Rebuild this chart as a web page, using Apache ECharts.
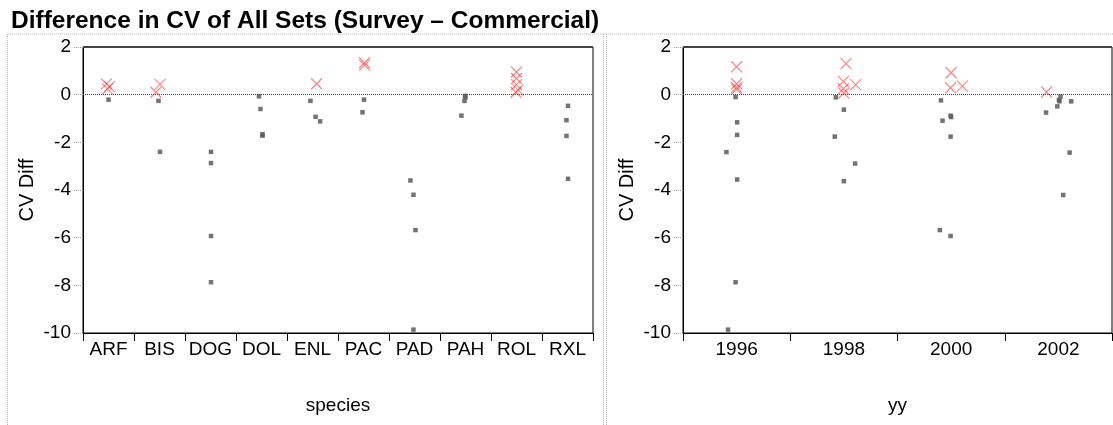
<!DOCTYPE html>
<html>
<head>
<meta charset="utf-8">
<script src="https://cdn.jsdelivr.net/npm/echarts@6/dist/echarts.min.js"></script>
<style>
  html, body { margin: 0; padding: 0; background: #fff; }
  #main { width: 1113px; height: 425px; }
</style>
</head>
<body>
<div id="main"></div>
<script>
// categories
var speciesList = ['ARF', 'BIS', 'DOG', 'DOL', 'ENL', 'PAC', 'PAD', 'PAH', 'ROL', 'RXL'];
var yearLabels = ['1996', '1998', '2000', '2002'];

// left panel: x = species index (+ jitter), y = CV diff
var spGrayX = [0.0, 0.98, 1.01, 2.01, 2.01, 2.01, 2.01, 2.95, 2.98, 3.02, 3.02, 3.96, 4.06, 4.15, 5.01, 4.98,
               5.92, 5.98, 6.02, 5.98, 6.99, 7.0, 6.98, 6.92, 9.01, 8.98, 8.98, 9.01];
var spGrayY = [-0.21, -0.26, -2.40, -2.40, -2.87, -5.93, -7.87, -0.07, -0.60, -1.66, -1.72, -0.26, -0.93, -1.12, -0.21, -0.74,
               -3.60, -4.20, -5.68, -9.86, -0.05, -0.12, -0.26, -0.88, -0.47, -1.07, -1.73, -3.53];
var spRedX = [-0.04, 0.02, -0.02, 1.01, 0.93, 4.08, 5.02, 5.02, 8.0, 8.0, 8.0, 8.03, 7.99];
var spRedY = [0.45, 0.34, 0.24, 0.43, 0.10, 0.46, 1.34, 1.24, 0.95, 0.68, 0.42, 0.20, 0.10];

// right panel: x = year (+ jitter), y = CV diff
var yyGrayX = [1995.98, 1996.01, 1996.01, 1995.81, 1996.01, 1995.98, 1995.84,
               1997.85, 1998.0, 1997.83, 1998.21, 1998.0,
               1999.81, 1999.99, 2000.0, 1999.84, 1999.99, 1999.79, 1999.99,
               2002.04, 2002.01, 2002.02, 2001.98, 2001.77, 2002.24, 2002.21, 2002.09];
var yyGrayY = [-0.10, -1.16, -1.69, -2.41, -3.56, -7.87, -9.86,
               -0.11, -0.63, -1.76, -2.89, -3.63,
               -0.24, -0.88, -0.94, -1.09, -1.76, -5.68, -5.93,
               -0.08, -0.22, -0.28, -0.49, -0.75, -0.28, -2.43, -4.21];
var yyRedX = [1996.0, 1996.0, 1996.0, 1996.0, 1998.04, 1997.99, 1998.22, 1997.99, 1998.0, 2000.0, 2000.21, 1999.99, 2001.78];
var yyRedY = [1.17, 0.46, 0.30, 0.22, 1.30, 0.56, 0.42, 0.25, 0.07, 0.92, 0.36, 0.29, 0.11];

function zip(xs, ys) {
  var out = [];
  for (var i = 0; i < xs.length; i++) {
    out.push([xs[i], ys[i]]);
  }
  return out;
}

var FONT = 'Liberation Sans, Arial, sans-serif';
var crossPath = 'path://M0,0L10,10M10,0L0,10';

var chart = echarts.init(document.getElementById('main'));

function yAxisFor(gridIndex, gap) {
  return {
    type: 'value',
    gridIndex: gridIndex,
    min: -10,
    max: 2,
    interval: 2,
    name: 'CV Diff',
    nameLocation: 'middle',
    nameGap: gap,
    nameMoveOverlap: false,
    nameTextStyle: { fontFamily: FONT, fontSize: 20, color: '#000' },
    axisLine: { show: true, onZero: false, lineStyle: { color: '#000', width: 1 } },
    axisTick: { show: true, length: 9, lineStyle: { color: '#999', type: 'dotted' } },
    axisLabel: { fontFamily: FONT, fontSize: 19, color: '#000', margin: 12 },
    splitLine: { show: false }
  };
}

function grayScatter(xi, yi, data) {
  return {
    type: 'scatter',
    xAxisIndex: xi,
    yAxisIndex: yi,
    symbol: 'rect',
    symbolSize: 4.5,
    itemStyle: { color: '#5a5a5a', opacity: 0.85 },
    data: data,
    markLine: {
      silent: true,
      symbol: 'none',
      label: { show: false },
      data: [
        { yAxis: 0, lineStyle: { color: '#444', type: 'dotted', width: 1 } },
        { yAxis: 2, lineStyle: { color: '#444', type: 'solid', width: 2 } }
      ]
    },
    z: 3
  };
}

function redScatter(xi, yi, data) {
  return {
    type: 'scatter',
    xAxisIndex: xi,
    yAxisIndex: yi,
    symbol: crossPath,
    symbolSize: 11,
    itemStyle: { color: 'transparent', borderColor: 'rgba(255,40,40,0.7)', borderWidth: 1.2 },
    data: data,
    z: 4
  };
}

function catAxis(gridIndex, labels, title) {
  return {
    type: 'category',
    gridIndex: gridIndex,
    data: labels,
    boundaryGap: true,
    name: title,
    nameLocation: 'middle',
    nameGap: 63,
    nameTextStyle: { fontFamily: FONT, fontSize: 19, color: '#000' },
    axisLine: { onZero: false, lineStyle: { color: '#000' } },
    axisTick: { show: true, interval: 0, length: 8, lineStyle: { color: '#000' } },
    axisLabel: { interval: 0, fontFamily: FONT, fontSize: 19, color: '#000', margin: 7 },
    splitLine: { show: false }
  };
}

chart.setOption({
  animation: false,
  backgroundColor: '#fff',
  title: {
    text: 'Difference in CV of All Sets (Survey \u2013 Commercial)',
    left: 6,
    top: 4,
    textStyle: { fontFamily: FONT, fontSize: 24.5, fontWeight: 'bold', color: '#000' }
  },
  graphic: [
    { type: 'line', shape: { x1: 8, y1: 34, x2: 1113, y2: 34 }, style: { stroke: '#bbb', lineWidth: 1, lineDash: [1, 1] } },
    { type: 'line', shape: { x1: 7.5, y1: 34, x2: 7.5, y2: 425 }, style: { stroke: '#bbb', lineWidth: 1, lineDash: [1, 1] } },
    { type: 'line', shape: { x1: 603.5, y1: 34, x2: 603.5, y2: 425 }, style: { stroke: '#bbb', lineWidth: 1, lineDash: [1, 1] } },
    { type: 'line', shape: { x1: 606.5, y1: 34, x2: 606.5, y2: 425 }, style: { stroke: '#bbb', lineWidth: 1, lineDash: [1, 1] } }
  ],
  grid: [
    { left: 83, top: 47, width: 510, height: 286, show: true, borderColor: '#000', borderWidth: 1, backgroundColor: 'transparent' },
    { left: 683, top: 47, width: 429, height: 286, show: true, borderColor: '#000', borderWidth: 1, backgroundColor: 'transparent' }
  ],
  xAxis: [
    catAxis(0, speciesList, 'species'),
    { type: 'value', gridIndex: 0, min: -0.5, max: 9.5, show: false },
    catAxis(1, yearLabels, 'yy'),
    { type: 'value', gridIndex: 1, min: 1995, max: 2003, show: false }
  ],
  yAxis: [yAxisFor(0, 46), yAxisFor(1, 46)],
  series: [
    grayScatter(1, 0, zip(spGrayX, spGrayY)),
    redScatter(1, 0, zip(spRedX, spRedY)),
    grayScatter(3, 1, zip(yyGrayX, yyGrayY)),
    redScatter(3, 1, zip(yyRedX, yyRedY))
  ]
});
</script>
</body>
</html>
